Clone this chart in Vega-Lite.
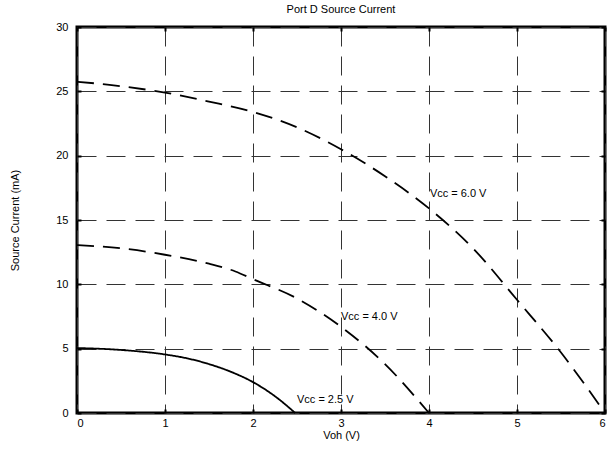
{
  "$schema": "https://vega.github.io/schema/vega-lite/v6.json",
  "width": 528,
  "height": 386,
  "autosize": {"type": "none"},
  "padding": {"left": 77, "top": 27, "right": 3, "bottom": 37},
  "background": "white",
  "title": {"text": "Port D Source Current", "fontSize": 11, "fontWeight": "normal", "font": "Liberation Sans", "color": "black", "offset": 6, "anchor": "middle"},
  "config": {
    "view": {"stroke": "black", "strokeWidth": 3},
    "axis": {
      "labelFont": "Liberation Sans", "labelFontSize": 11, "labelColor": "black",
      "titleFont": "Liberation Sans", "titleFontSize": 11, "titleFontWeight": "normal", "titleColor": "black",
      "domain": false,
      "tickColor": "black", "tickWidth": 2, "tickSize": -4,
      "gridColor": "#333333", "gridDash": [19, 10], "gridWidth": 1, "gridOpacity": 1
    }
  },
  "resolve": {"scale": {"x": "independent", "y": "independent"}},
  "layer": [
    {
      "data": {"values": [
        {"series": "2.5", "v": 0, "i": 5.05},
        {"series": "2.5", "v": 0.5, "i": 4.9},
        {"series": "2.5", "v": 1, "i": 4.55},
        {"series": "2.5", "v": 1.25, "i": 4.25},
        {"series": "2.5", "v": 1.5, "i": 3.8},
        {"series": "2.5", "v": 1.75, "i": 3.2},
        {"series": "2.5", "v": 2, "i": 2.4},
        {"series": "2.5", "v": 2.25, "i": 1.3},
        {"series": "2.5", "v": 2.48, "i": 0},
        {"series": "4.0", "v": 0, "i": 13.05},
        {"series": "4.0", "v": 0.5, "i": 12.8},
        {"series": "4.0", "v": 1, "i": 12.3},
        {"series": "4.0", "v": 1.5, "i": 11.6},
        {"series": "4.0", "v": 1.8, "i": 11.0},
        {"series": "4.0", "v": 2, "i": 10.4},
        {"series": "4.0", "v": 2.5, "i": 8.9},
        {"series": "4.0", "v": 3, "i": 6.7},
        {"series": "4.0", "v": 3.5, "i": 3.8},
        {"series": "4.0", "v": 4, "i": 0},
        {"series": "6.0", "v": 0, "i": 25.75},
        {"series": "6.0", "v": 0.5, "i": 25.4},
        {"series": "6.0", "v": 1, "i": 24.9},
        {"series": "6.0", "v": 1.5, "i": 24.2},
        {"series": "6.0", "v": 2, "i": 23.4},
        {"series": "6.0", "v": 2.5, "i": 22.2},
        {"series": "6.0", "v": 3, "i": 20.5},
        {"series": "6.0", "v": 3.5, "i": 18.4},
        {"series": "6.0", "v": 4, "i": 15.9},
        {"series": "6.0", "v": 4.5, "i": 12.8},
        {"series": "6.0", "v": 5, "i": 8.8},
        {"series": "6.0", "v": 5.5, "i": 4.7},
        {"series": "6.0", "v": 6, "i": 0}
      ]},
      "mark": {"type": "line", "color": "black", "strokeWidth": 1.8, "interpolate": "monotone"},
      "encoding": {
        "x": {"field": "v", "type": "quantitative", "scale": {"domain": [0, 6], "nice": false},
          "axis": {"values": [0, 1, 2, 3, 4, 5, 6], "title": "Voh (V)", "grid": true, "labelPadding": 8, "titlePadding": 1}},
        "y": {"field": "i", "type": "quantitative", "scale": {"domain": [0, 30], "nice": false},
          "axis": {"values": [0, 5, 10, 15, 20, 25, 30], "title": "Source Current (mA)", "grid": true, "labelPadding": 13, "titlePadding": 35}},
        "strokeDash": {"field": "series", "type": "nominal", "legend": null,
          "scale": {"domain": ["2.5", "4.0", "6.0"], "range": [[1, 0], [17, 9], [17, 9]]}}
      }
    },
    {
      "data": {"values": [
        {"v": 2.5, "i": 1.0, "label": "Vcc = 2.5 V"},
        {"v": 3.0, "i": 7.5, "label": "Vcc = 4.0 V"},
        {"v": 4.01, "i": 17.0, "label": "Vcc = 6.0 V"}
      ]},
      "mark": {"type": "text", "align": "left", "baseline": "middle", "font": "Liberation Sans", "fontSize": 11, "color": "black"},
      "encoding": {
        "x": {"field": "v", "type": "quantitative", "scale": {"domain": [0, 6], "nice": false},
          "axis": {"orient": "top", "values": [0, 1, 2, 3, 4, 5, 6], "labels": false, "title": null, "grid": false}},
        "y": {"field": "i", "type": "quantitative", "scale": {"domain": [0, 30], "nice": false},
          "axis": {"orient": "right", "values": [0, 5, 10, 15, 20, 25, 30], "labels": false, "title": null, "grid": false}},
        "text": {"field": "label"}
      }
    }
  ]
}
